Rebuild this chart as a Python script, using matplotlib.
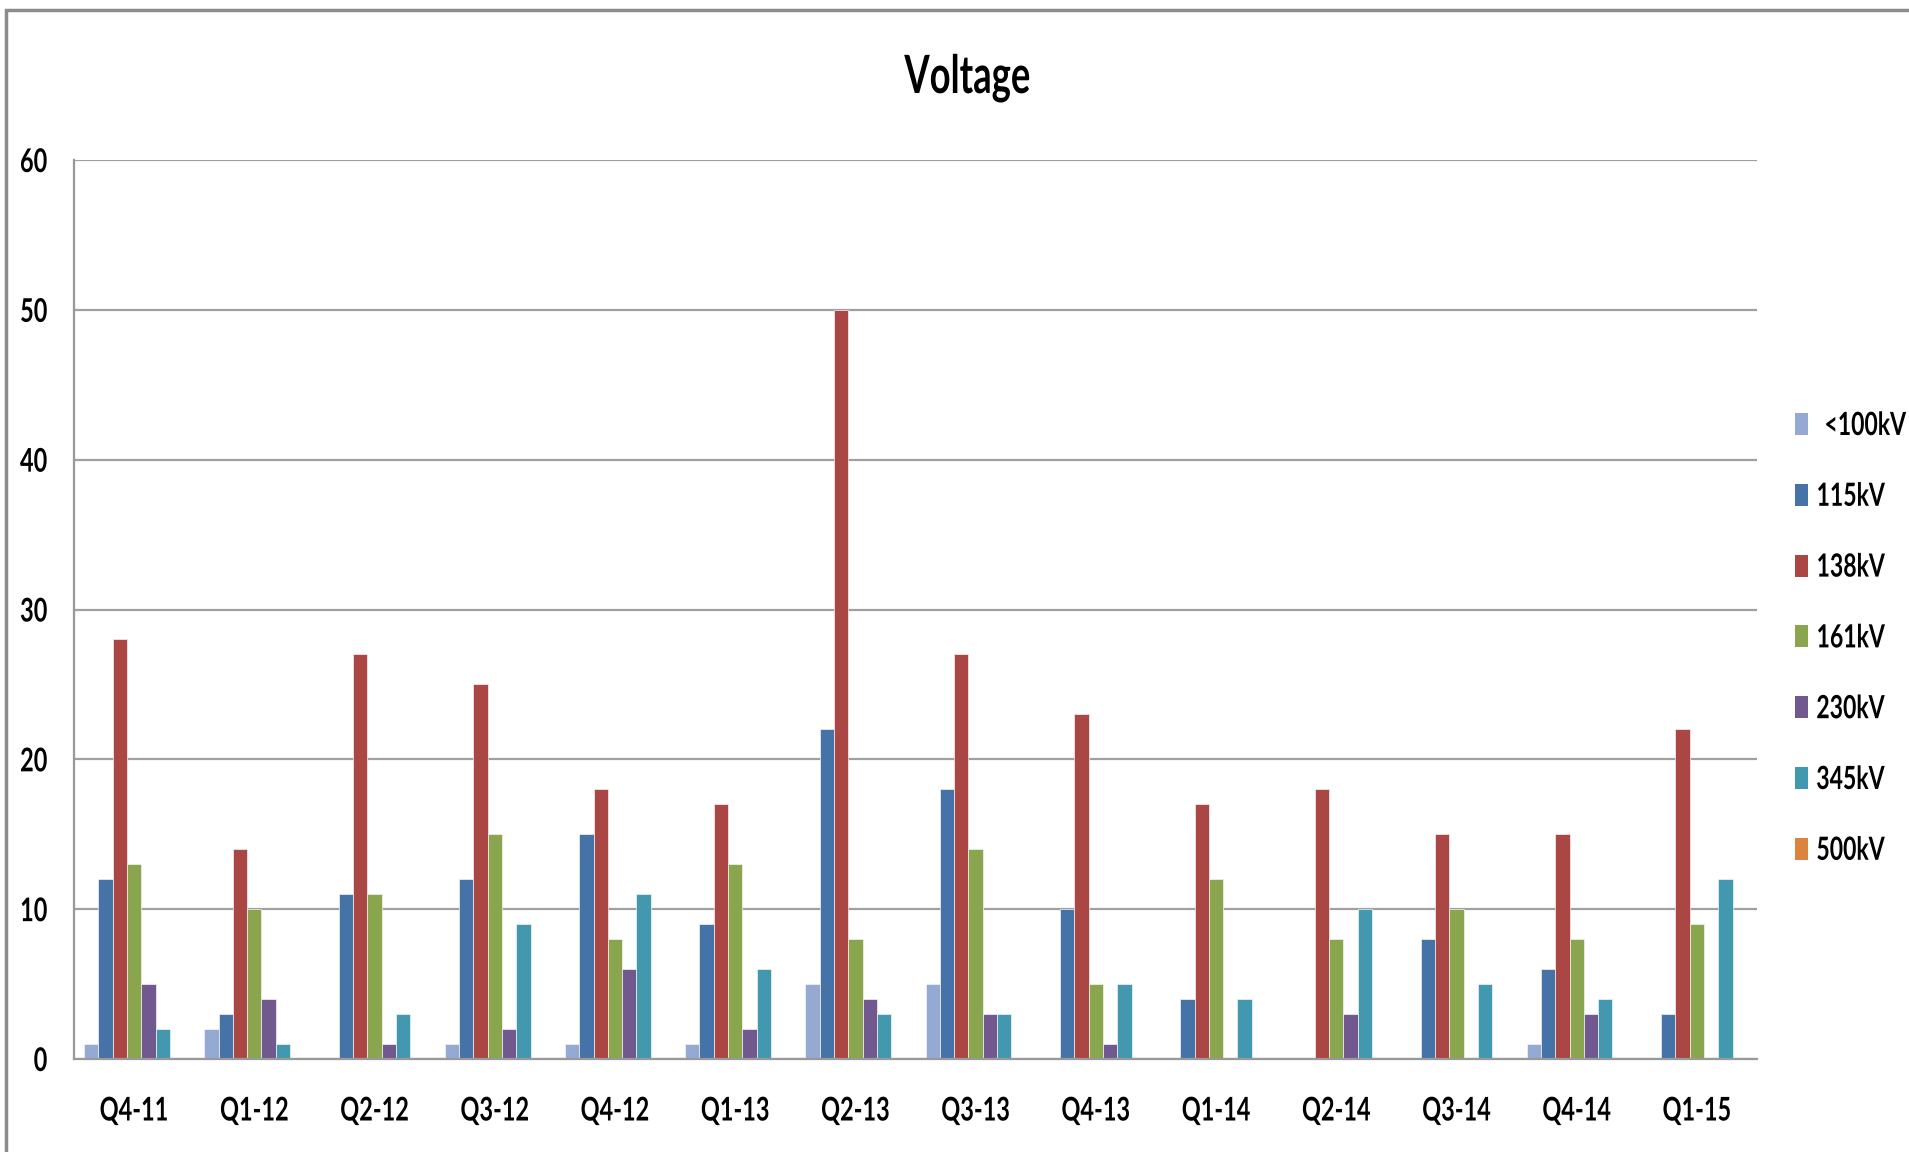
import matplotlib
matplotlib.use("Agg")
import matplotlib.pyplot as plt
from matplotlib.patches import Rectangle
from matplotlib.patheffects import AbstractPathEffect
from matplotlib.transforms import Affine2D
import numpy as np

# quarterly counts by voltage class
quarters = ['Q4-11', 'Q1-12', 'Q2-12', 'Q3-12', 'Q4-12', 'Q1-13', 'Q2-13',
            'Q3-13', 'Q4-13', 'Q1-14', 'Q2-14', 'Q3-14', 'Q4-14', 'Q1-15']
lt100 = [1, 2, 0, 1, 1, 1, 5, 5, 0, 0, 0, 0, 1, 0]
kv115 = [12, 3, 11, 12, 15, 9, 22, 18, 10, 4, 0, 8, 6, 3]
kv138 = [28, 14, 27, 25, 18, 17, 50, 27, 23, 17, 18, 15, 15, 22]
kv161 = [13, 10, 11, 15, 8, 13, 8, 14, 5, 12, 8, 10, 8, 9]
kv230 = [5, 4, 1, 2, 6, 2, 4, 3, 1, 0, 3, 0, 3, 0]
kv345 = [2, 1, 3, 9, 11, 6, 3, 3, 5, 4, 10, 5, 4, 12]
kv500 = [0, 0, 0, 0, 0, 0, 0, 0, 0, 0, 0, 0, 0, 0]

series = [lt100, kv115, kv138, kv161, kv230, kv345, kv500]
labels = [' <100kV', '115kV', '138kV', '161kV', '230kV', '345kV', '500kV']
colors = ['#95AAD2', '#4572A7', '#AA4643', '#89A54E', '#71588F', '#4198AF', '#DB843D']


class Squeeze(AbstractPathEffect):
    """Draw text narrower, keeping its left/centre/right ink edge in place."""

    def __init__(self, sx, anchor='center'):
        super().__init__()
        self.sx = sx
        self.anchor = anchor

    def draw_path(self, renderer, gc, tpath, affine, rgbFace=None):
        ext = tpath.get_extents()
        x0 = {'left': ext.x0, 'center': (ext.x0 + ext.x1) / 2,
              'right': ext.x1}[self.anchor]
        sq = Affine2D().translate(-x0, 0).scale(self.sx, 1).translate(x0, 0)
        renderer.draw_path(gc, tpath, sq + affine, rgbFace)


plt.rcParams['font.family'] = ['Lato', 'DejaVu Sans']
plt.rcParams['font.weight'] = 'bold'

W, H = 1909, 1152
fig = plt.figure(figsize=(W / 100, H / 100), dpi=100)
ax = fig.add_axes([74 / W, 93 / H, (1757 - 74) / W, (1059 - 160) / H])

x = np.arange(len(quarters))
width = 0.119
offsets = (np.arange(len(series)) - (len(series) - 1) / 2) * width
for vals, lab, col, off in zip(series, labels, colors, offsets):
    ax.bar(x + off, vals, width, color=col, label=lab,
           edgecolor='#f4f4f4', linewidth=0.5)

ax.set_xlim(-0.5, len(quarters) - 0.5)
ax.set_ylim(0, 60)
ax.set_yticks(range(0, 61, 10))
ax.set_xticks(x)
ax.set_xticklabels(quarters)
ax.yaxis.grid(True, color='#a0a0a0', linewidth=1.6)
ax.set_axisbelow(True)
for s in ['top', 'right']:
    ax.spines[s].set_visible(False)
for s in ['left', 'bottom']:
    ax.spines[s].set_color('#999999')
    ax.spines[s].set_linewidth(1.6)
ax.tick_params(axis='both', length=0, labelsize=23.5)
ax.tick_params(axis='y', pad=19)
ax.tick_params(axis='x', pad=27)
for t in ax.get_xticklabels():
    t.set_path_effects([Squeeze(0.72, 'center')])
for t in ax.get_yticklabels():
    t.set_path_effects([Squeeze(0.72, 'right')])

fig.text(967.5 / W, 1 - 93 / H, 'Voltage', ha='center', va='baseline',
         fontsize=38, fontweight='bold',
         path_effects=[Squeeze(0.69, 'center')])

# legend column on the right
for i, (lab, col) in enumerate(zip(labels, colors)):
    yc = 424 + i * 70.8
    fig.patches.append(Rectangle((1795 / W, 1 - (yc + 11) / H), 13 / W, 22 / H,
                                 transform=fig.transFigure, facecolor=col,
                                 edgecolor='none'))
    fig.text(1816 / W, 1 - (yc + 11) / H, lab, ha='left', va='baseline',
             fontsize=23, fontweight='bold',
             path_effects=[Squeeze(0.72, 'left')])

# outer frame of the chart area
fig.patches.append(Rectangle((6 / W, -0.1), 1.2, 1 - 10 / H + 0.1,
                             transform=fig.transFigure, fill=False,
                             edgecolor='#8c8c8c', linewidth=2.5))

fig.savefig('out.png', dpi=100)
